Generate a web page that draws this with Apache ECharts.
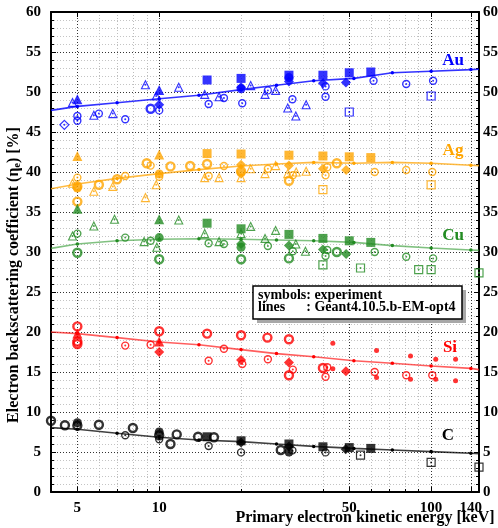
<!DOCTYPE html>
<html>
<head>
<meta charset="utf-8">
<script src="https://cdn.jsdelivr.net/npm/echarts@6/dist/echarts.min.js"></script>
<style>
  html, body { margin: 0; padding: 0; background: #fff; }
  #chart { width: 498px; height: 528px; }
</style>
</head>
<body>
<div id="chart"></div>
<script>
// ---- axis ticks (keV and %) ----
const energyMajor = [5, 10, 50, 100, 140];
const energyMinor = [6, 7, 8, 9, 20, 30, 40, 60, 70, 80, 90];

// ---- Geant4.10.5.b-EM-opt4 simulation curves ----
const simEnergy = [4, 5, 7, 10, 14, 20, 27, 37, 52, 72, 100, 140, 150];
const simAu = [47.7, 48.2, 48.65, 49.15, 49.6, 50.3, 50.85, 51.4, 51.7, 52.4, 52.6, 52.8, 52.85];
const simAg = [37.9, 38.5, 39.2, 39.8, 40.3, 40.75, 41.0, 41.2, 41.1, 41.2, 41.1, 40.85, 40.8];
const simCu = [30.45, 31.0, 31.4, 31.6, 31.65, 31.6, 31.5, 31.4, 31.2, 30.8, 30.5, 30.25, 30.2];
const simSi = [20.0, 19.8, 19.3, 18.75, 18.4, 17.8, 17.3, 16.9, 16.4, 16.1, 15.75, 15.45, 15.3];
const simC  = [8.05, 7.85, 7.35, 6.85, 6.5, 6.3, 6.0, 5.7, 5.45, 5.25, 5.05, 4.85, 4.8];

// ---- experimental data: [energy keV, coefficient %] ----
// Au
const auTriFilled = [[5, 49.1], [10, 50.25]];
const auTriOpen = [[4.8, 48.7], [5.75, 47.1], [6.75, 47.3], [8.9, 50.9], [9.75, 49.5], [11.8, 50.6], [14.7, 49.7], [16.6, 49.4], [21.7, 50.8], [24.5, 49.7], [26.8, 50.2], [29.7, 48.0], [31.8, 47.0], [34.7, 48.4]];
const auRingSmall = [[5, 47.0], [5, 46.4], [6.0, 47.3], [7.5, 46.6], [10, 47.7], [15.2, 48.5], [17.3, 49.25], [20.2, 48.6], [25.1, 50.2], [30.9, 49.1], [40.9, 50.7], [40.9, 49.4], [61.4, 51.4], [81, 51.0], [101.7, 51.4]];
const auRingThick = [[9.3, 47.9]];
const auDiamondOpen = [[4.48, 45.9]];
const auDiamond = [[10, 48.4], [20, 50.6], [30, 51.3], [40, 51.1], [48.6, 51.2]];
const auSquare = [[15, 51.5], [20, 51.7], [30, 52.1], [40, 52.1], [50, 52.4], [60, 52.5]];
const auSquareOpen = [[50, 47.5], [100, 49.5]];
const auDot = [[20, 50.4], [30, 51.8]];
// Ag
const agTriFilled = [[5, 42.0], [10, 42.2]];
const agTriOpen = [[4.8, 38.6], [5.75, 37.6], [6.75, 38.2], [8.9, 36.8], [9.75, 38.4], [14.7, 39.3], [16.6, 39.3], [20, 39.3], [21.7, 40.4], [24.5, 39.8], [26.8, 40.8], [29.7, 39.8], [31.9, 40.0], [34.7, 40.1]];
const agRingSmall = [[5, 39.3], [7.5, 39.5], [9.3, 40.8], [10, 39.4], [15.2, 39.5], [17.3, 40.75], [25.1, 40.4], [31, 39.6], [40.9, 39.6], [41.5, 40.6], [62, 40.0], [81, 40.25], [101, 40.0]];
const agRingThick = [[5, 38.2], [5, 36.3], [6.0, 38.4], [7.0, 39.1], [9.0, 41.1], [11, 40.7], [13, 40.75], [15, 41.0], [20, 40.1], [30, 38.9], [45, 41.1]];
const agDot = [[5, 38.0], [10, 39.75], [20, 39.9]];
const agDiamond = [[20, 40.9], [30, 40.8], [40, 40.4], [48.7, 40.25]];
const agSquare = [[15, 42.3], [20, 42.25], [30, 42.1], [40, 42.0], [50, 41.9], [60, 41.8]];
const agSquareOpen = [[40, 37.8], [100, 38.4]];
// Cu
const cuTriFilled = [[5, 35.4], [10, 34.1]];
const cuTriOpen = [[4.8, 32.0], [5.75, 33.25], [6.85, 34.1], [8.8, 31.3], [9.8, 30.6], [11.8, 34.0], [14.7, 32.3], [16.6, 31.3], [20, 32.3], [21.7, 33.2], [24.5, 31.7], [26.8, 32.7], [31.8, 31.0], [34.5, 30.1]];
const cuRingSmall = [[5, 32.3], [7.5, 31.8], [9.3, 31.4], [15.2, 31.1], [17.3, 31.0], [25.1, 30.75], [31, 30.1], [40.9, 29.5], [41.5, 30.25], [62, 30.0], [81, 29.4], [101.7, 29.2]];
const cuRingThick = [[5, 29.9], [10, 29.1], [20, 29.1], [30, 29.2], [45, 30.0]];
const cuDot = [[10, 31.8], [20, 30.6]];
const cuDiamond = [[20, 31.0], [30, 30.8], [40, 30.3], [48.7, 29.75]];
const cuSquare = [[15, 33.6], [20, 32.9], [30, 32.2], [40, 31.7], [50, 31.4], [60, 31.2]];
const cuSquareOpen = [[40, 28.4], [55, 28.0], [90, 27.8], [100, 27.8], [150, 27.4]];
// Si
const siTriFilled = [[5, 19.8], [10, 18.8]];
const siRingThick = [[5, 20.7], [5, 18.8], [5, 18.5], [10, 20.1], [15, 19.8], [20, 19.6], [25, 19.3], [30, 19.1], [30, 14.6], [40, 15.5]];
const siRingSmall = [[7.5, 18.3], [9.3, 18.4], [15.2, 16.4], [17.3, 17.9], [20.2, 16.0], [25.1, 16.6], [31, 15.3], [40.9, 14.4], [41.5, 15.6], [62, 15.0], [81, 14.6], [101, 14.6]];
const siDiamond = [[10, 17.5], [20, 16.5], [30, 16.2], [48.6, 15.1]];
const siDotSmall = [[43.5, 18.6], [43.5, 15.4], [63, 17.7], [63, 14.3], [84, 17.0], [84, 14.1], [104, 16.6], [104, 14.1], [123, 16.6], [123, 13.9]];
// C
const cRingThick = [[4.0, 8.9], [4.5, 8.35], [5, 8.3], [6.0, 8.4], [8.0, 8.0], [10, 7.1], [11.0, 6.0], [11.6, 7.2], [13.9, 6.9], [15.9, 6.85], [28, 5.25]];
const cDot = [[5, 8.65], [10, 7.5], [30, 5.0]];
const cRingSmall = [[7.5, 7.1], [10, 6.6], [15.2, 5.75], [20, 4.95], [30.9, 5.2], [40.9, 4.95]];
const cSquare = [[15, 6.9], [20, 6.4], [30, 6.0], [40, 5.65], [50, 5.55], [60, 5.45]];
const cDiamond = [[20, 6.2], [30, 5.7], [48.5, 5.35]];
const cSquareOpen = [[55, 4.6], [100, 3.7], [150, 3.1]];

// ---- marker appearance per experimental data kind ----
const markerKinds = {
  triFilled:   { symbol: 'triangle', size: 10, fill: true },
  triOpen:     { symbol: 'triangle', size: 8,  fill: false, border: 1.1, inner: true },
  ringSmall:   { symbol: 'circle',   size: 7,  fill: false, border: 1.4, inner: true },
  ringThick:   { symbol: 'circle',   size: 8,  fill: false, border: 2.4 },
  diamond:     { symbol: 'diamond',  size: 10, fill: true },
  diamondOpen: { symbol: 'diamond',  size: 9,  fill: false, border: 1.2, inner: true },
  square:      { symbol: 'rect',     size: 9,  fill: true },
  squareOpen:  { symbol: 'rect',     size: 8,  fill: false, border: 1.2, inner: true },
  dot:         { symbol: 'circle',   size: 9,  fill: true },
  dotSmall:    { symbol: 'circle',   size: 5,  fill: true }
};

const elements = [
  { name: 'Au', color: '#0000ff', line: 'rgba(0,0,255,0.8)', sim: simAu, label: [453, 61],
    exp: { triOpen: auTriOpen, ringSmall: auRingSmall, ringThick: auRingThick, diamondOpen: auDiamondOpen,
           squareOpen: auSquareOpen, triFilled: auTriFilled, diamond: auDiamond, dot: auDot, square: auSquare } },
  { name: 'Ag', color: '#ffa500', line: 'rgba(255,170,20,0.8)', sim: simAg, label: [453, 151],
    exp: { triOpen: agTriOpen, ringSmall: agRingSmall, ringThick: agRingThick, squareOpen: agSquareOpen,
           triFilled: agTriFilled, dot: agDot, diamond: agDiamond, square: agSquare } },
  { name: 'Cu', color: '#228b22', line: 'rgba(60,160,60,0.65)', sim: simCu, label: [453, 236],
    exp: { triOpen: cuTriOpen, ringSmall: cuRingSmall, ringThick: cuRingThick, squareOpen: cuSquareOpen,
           triFilled: cuTriFilled, dot: cuDot, diamond: cuDiamond, square: cuSquare } },
  { name: 'Si', color: '#ff0000', line: 'rgba(255,40,40,0.75)', sim: simSi, label: [450, 348],
    exp: { ringSmall: siRingSmall, ringThick: siRingThick, triFilled: siTriFilled, diamond: siDiamond, dotSmall: siDotSmall } },
  { name: 'C', color: '#000000', line: 'rgba(0,0,0,0.75)', sim: simC, label: [448, 436],
    exp: { ringSmall: cRingSmall, ringThick: cRingThick, squareOpen: cSquareOpen, dot: cDot, diamond: cDiamond, square: cSquare } }
];

const serif = 'Liberation Serif, DejaVu Serif, serif';
const series = [];

elements.forEach(el => {
  // simulation curve with its computed points
  const n = simEnergy.length;
  series.push({
    type: 'line',
    name: el.name + ' sim',
    data: simEnergy.map((e, i) => (i === 0 || i === n - 1)
      ? { value: [e, el.sim[i]], symbol: 'none' }
      : [e, el.sim[i]]),
    symbol: 'circle',
    symbolSize: 3.5,
    showSymbol: true,
    lineStyle: { color: el.line, width: 1.6 },
    itemStyle: { color: el.color, borderWidth: 0 },
    z: 2,
    silent: true
  });
  // experimental markers
  Object.keys(el.exp).forEach(kind => {
    const k = markerKinds[kind];
    series.push({
      type: 'scatter',
      name: el.name + ' ' + kind,
      data: el.exp[kind],
      symbol: k.symbol,
      symbolSize: k.size,
      itemStyle: k.fill
        ? { color: el.color, borderWidth: 0 }
        : { color: 'rgba(255,255,255,0)', borderColor: el.color, borderWidth: k.border },
      z: 3,
      silent: true
    });
    if (k.inner) {
      series.push({
        type: 'scatter',
        name: el.name + ' ' + kind + ' centre',
        data: el.exp[kind],
        symbol: 'circle',
        symbolSize: 2,
        itemStyle: { color: el.color },
        z: 3,
        silent: true
      });
    }
  });
});

const chart = echarts.init(document.getElementById('chart'), null, { renderer: 'canvas' });

const axisText = { fontFamily: serif, fontWeight: 'bold', fontSize: 15, color: '#000' };

chart.setOption({
  animation: false,
  backgroundColor: '#fff',
  grid: { left: 51, right: 19, top: 12, bottom: 36, containLabel: false, outerBoundsMode: 'none' },
  xAxis: [
    {
      type: 'log', logBase: 10, min: 4, max: 150, position: 'bottom',
      axisLine: { show: true, onZero: false, lineStyle: { color: '#000', width: 2 } },
      axisTick: { show: true, inside: true, length: 5, customValues: energyMajor, lineStyle: { color: '#000', width: 1 } },
      axisLabel: Object.assign({ customValues: energyMajor, margin: 9, hideOverlap: false }, axisText),
      splitLine: { show: true, lineStyle: { color: '#333', width: 1, type: [1, 2] } },
      minorTick: { show: false },
      name: 'Primary electron kinetic energy [keV]',
      nameLocation: 'middle',
      nameGap: 18,
      nameMoveOverlap: false,
      nameTextStyle: { fontFamily: serif, fontWeight: 'bold', fontSize: 16, color: '#000',
                       verticalAlign: 'top', padding: [0, 0, 0, 200] }
    },
    {
      type: 'log', logBase: 10, min: 4, max: 150, position: 'top',
      axisLine: { show: true, onZero: false, lineStyle: { color: '#000', width: 2 } },
      axisTick: { show: true, inside: true, length: 5, customValues: energyMajor, lineStyle: { color: '#000' } },
      axisLabel: { show: false },
      splitLine: { show: false }
    },
    {
      type: 'log', logBase: 10, min: 4, max: 150, position: 'bottom',
      axisLine: { show: false },
      axisTick: { show: true, inside: true, length: 3, customValues: energyMinor, lineStyle: { color: '#000' } },
      axisLabel: { show: false },
      splitLine: { show: true, lineStyle: { color: '#bdbdbd', width: 1, type: [1, 2] } }
    }
  ],
  yAxis: [
    {
      type: 'value', min: 0, max: 60, interval: 5, position: 'left',
      axisLine: { show: true, onZero: false, lineStyle: { color: '#000', width: 2 } },
      axisTick: { show: true, inside: true, length: 5, lineStyle: { color: '#000' } },
      minorTick: { show: true, splitNumber: 5, length: 3, lineStyle: { color: '#000' } },
      axisLabel: Object.assign({ margin: 10 }, axisText),
      splitLine: { show: true, lineStyle: { color: '#333', width: 1, type: [1, 2] } },
      minorSplitLine: { show: true, lineStyle: { color: '#c4c4c4', width: 1, type: [1, 2] } },
      name: '{t|Electron backscattering coefficient (η}{s|e}{t|) [%]}',
      nameLocation: 'middle',
      nameGap: 29,
      nameMoveOverlap: false,
      nameTextStyle: {
        padding: [0, 46, 0, 0],
        rich: {
          t: { fontFamily: serif, fontWeight: 'bold', fontSize: 16, color: '#000' },
          s: { fontFamily: serif, fontWeight: 'bold', fontSize: 10, color: '#000', verticalAlign: 'bottom', padding: [6, 0, 0, 0] }
        }
      }
    },
    {
      type: 'value', min: 0, max: 60, interval: 5, position: 'right',
      axisLine: { show: true, onZero: false, lineStyle: { color: '#000', width: 2 } },
      axisTick: { show: true, inside: true, length: 5, lineStyle: { color: '#000' } },
      minorTick: { show: true, splitNumber: 5, length: 3, lineStyle: { color: '#000' } },
      axisLabel: Object.assign({ margin: 4 }, axisText),
      splitLine: { show: false }
    }
  ],
  graphic: [
    // note box with drop shadow
    { type: 'rect', shape: { x: 257, y: 290, width: 209, height: 33 }, style: { fill: '#a8a8a8' }, z: 10 },
    { type: 'rect', shape: { x: 253, y: 286, width: 209, height: 33 }, style: { fill: '#fff', stroke: '#000', lineWidth: 1.5 }, z: 11 },
    { type: 'text', x: 258, y: 289, z: 12,
      style: { text: 'symbols: experiment\nlines      : Geant4.10.5.b-EM-opt4', fontFamily: serif, fontWeight: 'bold',
               fontSize: 14, lineHeight: 12.5, fill: '#000' } }
  ].concat(elements.map(el => ({
    type: 'text', x: el.label[0], y: el.label[1], z: 12,
    style: { text: el.name, fontFamily: serif, fontWeight: 'bold', fontSize: 17, fill: el.color,
             align: 'center', verticalAlign: 'middle' }
  }))),
  series: series
});
</script>
</body>
</html>
